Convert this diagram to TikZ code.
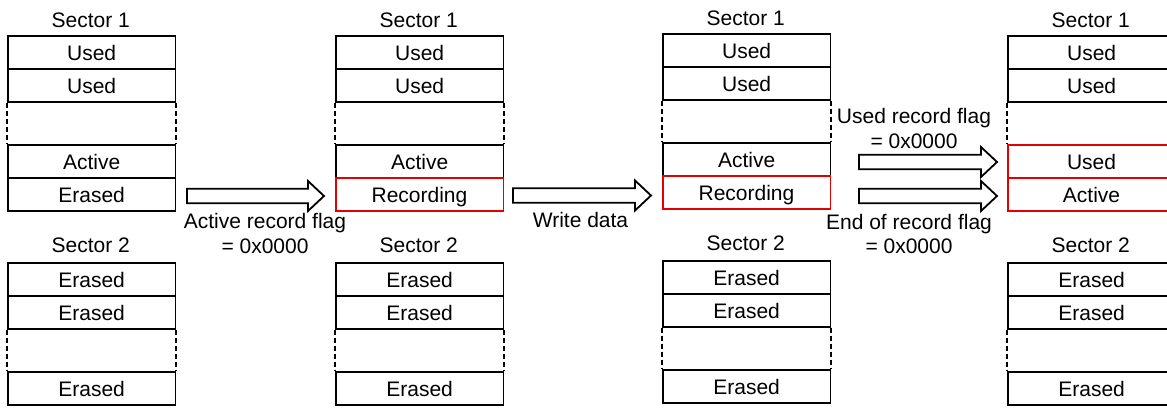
\documentclass[tikz,border=0pt]{standalone}
\usepackage{fontspec}
\setmainfont{Liberation Sans}
\usetikzlibrary{calc}
\definecolor{recred}{RGB}{226,0,0}
\newcommand{\lblfont}{\fontsize{21}{24}\selectfont}

% One flash page: "Sector 1" with two used records, a gap, two lower records;
% "Sector 2" with erased records.  #1 name, #2 shift, #3/#4 text/style of
% the third record, #5/#6 text/style of the fourth record.
\newcommand{\sectorcolumn}[6]{%
  \begin{scope}[shift={#2}]
    \node[sectorlabel] (#1-s1) at (83.75,27.3) {Sector 1};
    \node[cell] (#1-r1) at (0,35) {Used};
    \node[cell] (#1-r2) at (0,68) {Used};
    \node[cell,#4] (#1-r3) at (0,144) {#3};
    \node[cell,#6] (#1-r4) at (0,177) {#5};
    \draw[gapline] (#1-r2.south west) -- (#1-r3.north west);
    \draw[gapline] (#1-r2.south east) -- (#1-r3.north east);
    \node[sectorlabel] (#1-s2) at (83.75,252.8) {Sector 2};
    \node[cell] (#1-e1) at (0,262) {Erased};
    \node[cell] (#1-e2) at (0,295) {Erased};
    \node[cell] (#1-e3) at (0,371) {Erased};
    \draw[gapline] (#1-e2.south west) -- (#1-e3.north west);
    \draw[gapline] (#1-e2.south east) -- (#1-e3.north east);
  \end{scope}}

% Outlined block arrow from a tail coordinate to a tip coordinate on one line.
\newcommand{\blockarrow}[2]{%
  \draw[arrowline] ($(#1)+(0,-7.3)$) -- ($(#2)+(-16,-7.3)$) -- ($(#2)+(-16,-15)$)
    -- (#2) -- ($(#2)+(-16,15)$) -- ($(#2)+(-16,7.3)$) -- ($(#1)+(0,7.3)$) -- cycle;}

\begin{document}
\begin{tikzpicture}[x=1pt,y=-1pt,
  cell/.style={draw=black, line width=1.7pt, minimum width=167.5pt,
    minimum height=33pt, inner sep=0pt, anchor=north west,
    text height=17pt, text depth=0pt, font=\lblfont},
  recbox/.style={draw=recred, line width=1.5pt},
  gapline/.style={line width=1.7pt, dash pattern=on 5pt off 3pt},
  sectorlabel/.style={anchor=base, inner sep=0pt, font=\lblfont},
  flaglabel/.style={anchor=base, inner sep=0pt, font=\lblfont},
  arrowline/.style={draw=black, line width=1.8pt, fill=white, line join=miter}]

\useasboundingbox (0,0) rectangle (1167,407);

\sectorcolumn{a}{(7,0)}{Active}{}{Erased}{}
\sectorcolumn{b}{(335,0)}{Active}{}{Recording}{recbox}
\sectorcolumn{c}{(662,-2)}{Active}{}{Recording}{recbox}
\sectorcolumn{d}{(1007,0)}{Used}{recbox}{Active}{recbox}

% step 1: mark the record as being written
\coordinate (t1) at (187,196);
\coordinate (h1) at (324,196);
\blockarrow{t1}{h1}
\node[flaglabel] (f1a) at (265,228.5) {Active record flag};
\node[flaglabel] (f1b) at (265,253) {= 0x0000};

% step 2: write the data
\coordinate (t2) at (513,195.5);
\coordinate (h2) at (651,195.5);
\blockarrow{t2}{h2}
\node[flaglabel] (f2) at (580.5,227) {Write data};

% step 3: close the old record and open the next one
\coordinate (t3) at (859,162);
\coordinate (h3) at (997,162);
\blockarrow{t3}{h3}
\node[flaglabel] (f3a) at (914,123.3) {Used record flag};
\node[flaglabel] (f3b) at (914,148.3) {= 0x0000};

\coordinate (t4) at (859,196);
\coordinate (h4) at (997,196);
\blockarrow{t4}{h4}
\node[flaglabel] (f4a) at (909,229.3) {End of record flag};
\node[flaglabel] (f4b) at (909,253.3) {= 0x0000};
\end{tikzpicture}
\end{document}
